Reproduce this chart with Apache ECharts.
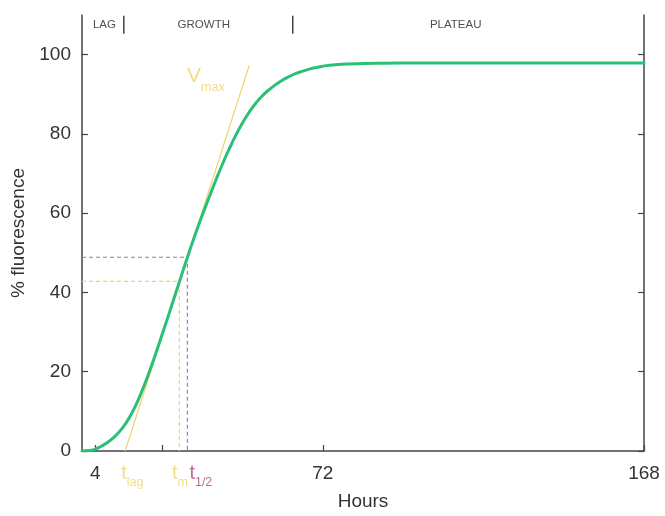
<!DOCTYPE html>
<html><head><meta charset="utf-8">
<script src="https://cdn.jsdelivr.net/npm/echarts@6/dist/echarts.min.js"></script>
<style>html,body{margin:0;padding:0;background:#fff}#c{width:665px;height:516px}</style>
</head><body><div id="c"></div>
<script>
// Data
const hours = [0,2,4,6,8,10,12,14,16,18,20,22,24,26,28,30,32,34,36,38,40,42,44,46,48,50,52,54,56,58,60,62,64,66,68,70,74,80,90,100,120,168];
const fluorescence = [0,0.1,0.5,1.3,2.4,3.8,5.7,8.2,11.4,15.3,19.7,24.5,29.5,34.6,39.8,45.0,50.1,55.0,59.6,64.0,68.3,72.4,76.2,79.7,82.8,85.5,87.8,89.7,91.2,92.5,93.6,94.5,95.25,95.85,96.35,96.75,97.3,97.65,97.85,97.9,97.9,97.9];
const xTickValues = [4, 24, 72, 168];
const xLabelValues = [4, 72, 168];
const yTickValues = [0, 20, 40, 60, 80, 100];
const tangentHours = [12.9, 50];
const tangentValues = [0, 97.3];
const tLag = 12.9, tM = 29.1, tHalf = 31.5;
const fM = 42.8, fHalf = 48.9;
const phaseNames = ['LAG', 'GROWTH', 'PLATEAU'];
const phaseCenters = [6.7, 36.4, 111.7];
const phaseBounds = [12.5, 63];
const phaseLabelY = 107.6;
const phaseBarY = [105.3, 109.8];

const GREEN = '#2BBF78', YEL = '#EBD46A', PURP = '#B46A98', PURPT = '#A8497F', AX = '#444';
const FONT = 'Liberation Sans';

const chart = echarts.init(document.getElementById('c'), null, {renderer: 'canvas'});
const series = [];
// main curve
series.push({type: 'line', data: hours.map((h, i) => [h, fluorescence[i]]), smooth: 0.5, showSymbol: false,
  lineStyle: {color: GREEN, width: 3, cap: 'round', join: 'round'}, z: 5, silent: true});
// tangent
series.push({type: 'line', data: tangentHours.map((h, i) => [h, tangentValues[i]]), showSymbol: false,
  lineStyle: {color: YEL, width: 1.2}, z: 4, silent: true});
// dashed guides
series.push({type: 'line', data: [[0, fM], [tM, fM], [tM, 0]], showSymbol: false,
  lineStyle: {color: YEL, width: 1.1, type: [4, 3]}, z: 3, silent: true});
series.push({type: 'line', data: [[0, fHalf], [tHalf, fHalf], [tHalf, 0]], showSymbol: false,
  lineStyle: {color: PURP, width: 1.1, type: [4, 3]}, z: 3, silent: true});
// phase separators
phaseBounds.forEach(b => series.push({type: 'line', data: [[b, phaseBarY[0]], [b, phaseBarY[1]]], showSymbol: false,
  lineStyle: {color: AX, width: 1.5}, silent: true}));
// phase labels
series.push({type: 'scatter', symbolSize: 0, silent: true, clip: false,
  data: phaseNames.map((n, i) => ({value: [phaseCenters[i], phaseLabelY], name: n})),
  label: {show: true, position: 'inside', formatter: p => p.name, color: '#222', fontSize: 11.5, fontFamily: FONT}});
// Vmax label
series.push({type: 'scatter', symbolSize: 0, silent: true, clip: false,
  data: [[31.4, 94.5]],
  label: {show: true, position: [0, 0], align: 'left', verticalAlign: 'middle',
    formatter: '{v|V}{s|max}', rich: {
      v: {fontSize: 21, color: YEL, fontFamily: FONT, verticalAlign: 'bottom'},
      s: {fontSize: 12.5, color: YEL, fontFamily: FONT, padding: [0, 0, -7, 0], verticalAlign: 'bottom'}}}});
// time labels below axis
const tl = (x, main, sub, col) => ({value: [x, 0], label: {formatter: '{t|' + main + '}{s|' + sub + '}',
  rich: {t: {fontSize: 20, color: col, fontFamily: FONT, verticalAlign: 'bottom'},
         s: {fontSize: 12.5, color: col, fontFamily: FONT, padding: [0, 0, -6, 0], verticalAlign: 'bottom'}}}});
series.push({type: 'scatter', symbolSize: 0, silent: true, clip: false,
  data: [tl(tLag - 1.2, 't', 'lag', YEL), tl(tM - 2.2, 't', 'm', YEL), tl(tHalf + 0.6, 't', '1/2', PURPT)],
  label: {show: true, position: [0, 12], align: 'left', verticalAlign: 'top'}});

chart.setOption({
  animation: false,
  backgroundColor: '#fff',
  grid: {left: 82, right: 21, top: 15, bottom: 62, containLabel: false},
  xAxis: {type: 'value', min: 0, max: 168, name: 'Hours', nameLocation: 'middle', nameGap: 41,
    nameTextStyle: {fontSize: 19, color: '#333', fontFamily: FONT},
    axisLine: {show: true, lineStyle: {color: AX, width: 1.5}},
    axisTick: {show: true, inside: true, length: 6, customValues: xTickValues, lineStyle: {color: AX, width: 1.2}},
    axisLabel: {customValues: xLabelValues, fontSize: 19, color: '#333', fontFamily: FONT, margin: 13},
    splitLine: {show: false}},
  yAxis: [{type: 'value', min: 0, max: 110, name: '% fluorescence', nameLocation: 'middle', nameGap: 52,
    nameTextStyle: {fontSize: 19, color: '#333', fontFamily: FONT},
    axisLine: {show: true, lineStyle: {color: AX, width: 1.5}},
    axisTick: {show: true, inside: true, length: 6, customValues: yTickValues, lineStyle: {color: AX, width: 1.2}},
    axisLabel: {customValues: yTickValues, fontSize: 19, color: '#333', fontFamily: FONT, margin: 11},
    splitLine: {show: false}},
   {type: 'value', min: 0, max: 110, position: 'right',
    axisLine: {show: true, lineStyle: {color: AX, width: 1.5}},
    axisTick: {show: true, inside: true, length: 6, customValues: yTickValues, lineStyle: {color: AX, width: 1.2}},
    axisLabel: {show: false}, splitLine: {show: false}}],
  series: series
});
</script></body></html>
